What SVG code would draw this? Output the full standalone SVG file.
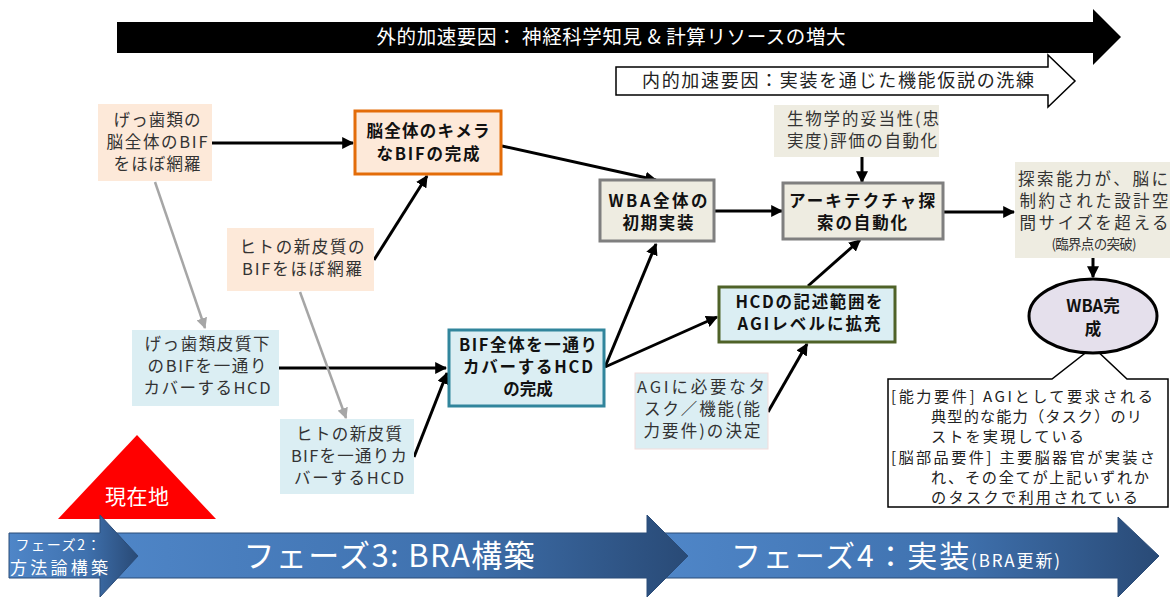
<svg xmlns="http://www.w3.org/2000/svg" width="1170" height="597" viewBox="0 0 1170 597">
<style>
text{font-family:"Noto Sans CJK JP","Noto Sans",sans-serif;}
.r{font-size:16.5px;fill:#333;text-anchor:middle;}
.b{font-size:16.5px;fill:#111;font-weight:700;text-anchor:middle;}
.w{fill:#fff;text-anchor:middle;}
.cl{font-size:15.2px;fill:#222;}
.ln{stroke:#000;stroke-width:3;fill:none;marker-end:url(#ah);}
.gl{stroke:#A6A6A6;stroke-width:2.5;fill:none;marker-end:url(#ag);}
</style>
<defs>
<marker id="ah" viewBox="0 0 10 10" refX="9" refY="5" markerWidth="4" markerHeight="4" orient="auto"><path d="M0,0 L10,5 L0,10 z" fill="#000"/></marker>
<marker id="ag" viewBox="0 0 10 10" refX="9" refY="5" markerWidth="4.4" markerHeight="4.4" orient="auto"><path d="M0,0 L10,5 L0,10 z" fill="#A6A6A6"/></marker>
<linearGradient id="pg" x1="0" y1="0" x2="1" y2="0">
<stop offset="0" stop-color="#4F86C8"/>
<stop offset="0.6" stop-color="#3F71AE"/>
<stop offset="1" stop-color="#294A76"/>
</linearGradient>
</defs>

<g id="external-factor">
<path d="M117,22 H1093 V9 L1121,37 L1093,65 V53 H117 Z" fill="#000"/>
<text class="w" x="611" y="44" font-size="19.5" textLength="469">外的加速要因： 神経科学知見 &amp; 計算リソースの増大</text>
</g>
<g id="internal-factor">
<path d="M616,67 H1048 V55 L1075,81 L1048,107 V95 H616 Z" fill="#fff" stroke="#000" stroke-width="1.5"/>
<text x="838" y="87" font-size="18" fill="#222" text-anchor="middle" textLength="392">内的加速要因：実装を通じた機能仮説の洗練</text>
</g>

<g id="connectors">
<line class="ln" x1="212" y1="143" x2="353" y2="143"/>
<line class="ln" x1="502" y1="146" x2="656" y2="180"/>
<line class="ln" x1="374" y1="260" x2="427" y2="176"/>
<line class="ln" x1="279" y1="368" x2="446" y2="368"/>
<line class="ln" x1="414" y1="457" x2="447" y2="373"/>
<line class="ln" x1="605" y1="367" x2="656" y2="244"/>
<line class="ln" x1="605" y1="367" x2="717" y2="317"/>
<line class="ln" x1="715" y1="211" x2="782" y2="211"/>
<line class="ln" x1="808" y1="286" x2="860" y2="240"/>
<line class="ln" x1="768" y1="412" x2="807" y2="344"/>
<line class="ln" x1="862" y1="157" x2="862" y2="182"/>
<line class="ln" x1="944" y1="212" x2="1014" y2="212"/>
<line class="ln" x1="1093" y1="258" x2="1093" y2="277"/>
<line class="gl" x1="155" y1="182" x2="205" y2="328"/>
<line class="gl" x1="300" y1="292" x2="346" y2="418"/>
</g>

<g id="n-rodent-whole">
<rect x="98" y="104" width="114" height="77" fill="#FDE9D9"/>
<text class="r" x="157" y="126" textLength="87">げっ歯類の</text>
<text class="r" x="157" y="148" textLength="101">脳全体のBIF</text>
<text class="r" x="157" y="170" textLength="87">をほぼ網羅</text>
</g>
<g id="n-chimera">
<rect x="355" y="111" width="146" height="63" fill="#FDE9D9" stroke="#E36C09" stroke-width="3"/>
<text class="b" x="428" y="137" textLength="123">脳全体のキメラ</text>
<text class="b" x="428" y="160" textLength="103">なBIFの完成</text>
</g>
<g id="n-human-bif">
<rect x="227" y="228" width="147" height="63" fill="#FDE9D9"/>
<text class="r" x="302" y="253" textLength="125">ヒトの新皮質の</text>
<text class="r" x="302" y="275" textLength="120">BIFをほぼ網羅</text>
</g>
<g id="n-rodent-hcd">
<rect x="132" y="330" width="147" height="76" fill="#DBEEF3"/>
<text class="r" x="207" y="350" textLength="125">げっ歯類皮質下</text>
<text class="r" x="207" y="372" textLength="119">のBIFを一通り</text>
<text class="r" x="207" y="394" textLength="127">カバーするHCD</text>
</g>
<g id="n-human-hcd">
<rect x="280" y="419" width="134" height="75" fill="#DBEEF3"/>
<text class="r" x="349" y="440" textLength="106">ヒトの新皮質</text>
<text class="r" x="349" y="462" textLength="116">BIFを一通りカ</text>
<text class="r" x="349" y="484" textLength="110">バーするHCD</text>
</g>
<g id="n-hcd-complete">
<rect x="449" y="330" width="155" height="76" fill="#DBEEF3" stroke="#31859C" stroke-width="3"/>
<text class="b" x="528" y="351" textLength="138">BIF全体を一通り</text>
<text class="b" x="528" y="373" textLength="130">カバーするHCD</text>
<text class="b" x="528" y="395" font-size="17">の完成</text>
</g>
<g id="n-wba-initial">
<rect x="600" y="180" width="114" height="61" fill="#EEECE1" stroke="#7F7F7F" stroke-width="3"/>
<text class="b" x="658" y="207" textLength="99">WBA全体の</text>
<text class="b" x="658" y="229" textLength="71">初期実装</text>
</g>
<g id="n-hcd-agi">
<rect x="719" y="287" width="176" height="55" fill="#DBEEF3" stroke="#4F6228" stroke-width="3"/>
<text class="b" x="809" y="308" textLength="147">HCDの記述範囲を</text>
<text class="b" x="809" y="330" textLength="143">AGIレベルに拡充</text>
</g>
<g id="n-agi-task">
<rect x="635" y="373" width="133" height="76" fill="#DBEEF3" stroke="#F2DCDB" stroke-width="1"/>
<text class="r" x="701" y="393" textLength="128">AGIに必要なタ</text>
<text class="r" x="702" y="415" textLength="116">スク／機能(能</text>
<text class="r" x="702" y="437" textLength="117">力要件)の決定</text>
</g>
<g id="n-bio-eval">
<rect x="774" y="105" width="165" height="52" fill="#EEECE1"/>
<text class="r" x="863" y="125" textLength="152">生物学的妥当性(忠</text>
<text class="r" x="862" y="147" textLength="150">実度)評価の自動化</text>
</g>
<g id="n-arch-search">
<rect x="783" y="183" width="160" height="56" fill="#EEECE1" stroke="#7F7F7F" stroke-width="3"/>
<text class="b" x="862" y="207" textLength="146">アーキテクチャ探</text>
<text class="b" x="862" y="229" textLength="90">索の自動化</text>
</g>
<g id="n-critical">
<rect x="1015" y="162" width="155" height="96" fill="#EEECE1"/>
<text class="r" x="1093" y="185" textLength="150">探索能力が、脳に</text>
<text class="r" x="1094" y="207" textLength="149">制約された設計空</text>
<text class="r" x="1094" y="229" textLength="149">間サイズを超える</text>
<text x="1094" y="249" font-size="13.5" fill="#333" text-anchor="middle" textLength="85">(臨界点の突破)</text>
</g>
<g id="n-callout">
<path d="M888,379 H1052 L1093,347 L1127,379 H1168 V507 H888 Z" fill="#fff" stroke="#000" stroke-width="1.5"/>
<text class="cl" x="891" y="402" textLength="262">[能力要件] AGIとして要求される</text>
<text class="cl" x="931" y="422" textLength="211">典型的な能力（タスク）のリ</text>
<text class="cl" x="931" y="442" textLength="153">ストを実現している</text>
<text class="cl" x="891" y="463" textLength="264">[脳部品要件] 主要脳器官が実装さ</text>
<text class="cl" x="931" y="483" textLength="218">れ、その全てが上記いずれか</text>
<text class="cl" x="931" y="503" textLength="207">のタスクで利用されている</text>
</g>
<g id="n-wba-complete">
<ellipse cx="1093" cy="316" rx="64" ry="37" fill="#E5E0EC" stroke="#000" stroke-width="3"/>
<text class="b" x="1093" y="312" font-size="17.5">WBA完</text>
<text class="b" x="1093" y="335" font-size="17.5">成</text>
</g>

<g id="phases">
<path d="M660,533 H1118 V517 L1159,556 L1118,597 V578 H660 Z" fill="url(#pg)" stroke="#2B4C78" stroke-width="1"/>
<text x="731" y="567" font-size="30" fill="#fff" textLength="329">フェーズ4：実装<tspan font-size="17">(BRA更新)</tspan></text>
<path d="M100,533 H647 V515 L688,556 L647,597 V578 H100 Z" fill="url(#pg)" stroke="#2B4C78" stroke-width="1"/>
<text class="w" x="389" y="567" font-size="31" textLength="291">フェーズ3: BRA構築</text>
<path d="M58,519 L137,435 L216,519 Z" fill="#FF0000"/>
<text class="w" x="137" y="504" font-size="21" textLength="64">現在地</text>
<path d="M9,533 H100 V515 L138,556 L100,597 V578 H9 Z" fill="url(#pg)" stroke="#2B4C78" stroke-width="1"/>
<text class="w" x="58" y="550" font-size="14" textLength="85">フェーズ2：</text>
<text class="w" x="59" y="574" font-size="17" textLength="98">方法論構築</text>
</g>
</svg>
